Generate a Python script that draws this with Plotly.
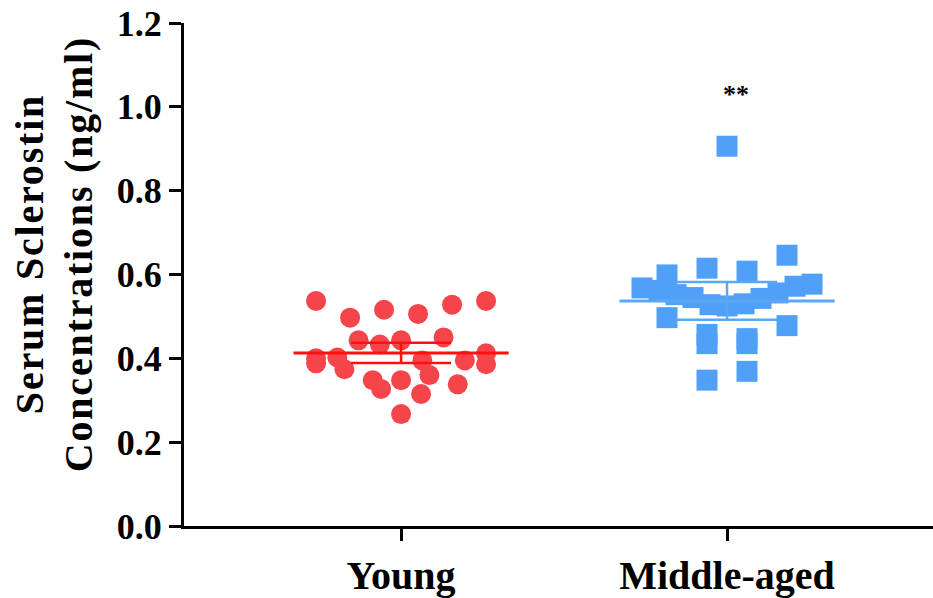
import plotly.graph_objects as go

# Serum sclerostin concentrations (ng/ml) per subject
categories = ["Young", "Middle-aged"]
young_values = [
    0.537, 0.497, 0.516, 0.506, 0.528, 0.537,
    0.400, 0.402, 0.443, 0.433, 0.443, 0.395, 0.450, 0.395, 0.412,
    0.388, 0.374, 0.348, 0.348, 0.360, 0.338, 0.386,
    0.327, 0.315, 0.267,
]
middle_values = [
    0.906,
    0.599, 0.615, 0.608, 0.646,
    0.568, 0.562, 0.552, 0.545, 0.528, 0.525, 0.530, 0.543, 0.556, 0.572, 0.577,
    0.497, 0.457, 0.447, 0.478,
    0.435, 0.435,
    0.348, 0.369,
]
group_means = [0.413, 0.537]
group_errors = [0.024, 0.045]
y_ticks = [0.0, 0.2, 0.4, 0.6, 0.8, 1.0, 1.2]
significance = "**"

# figure geometry
W, H = 933, 598
M_L, M_R, M_T, M_B = 184, 0, 23, 68
X_RANGE = [-0.666, 1.632]
Y_RANGE = [0, 1.2]
plot_w = W - M_L - M_R
plot_h = H - M_T - M_B
px_per_x = plot_w / (X_RANGE[1] - X_RANGE[0])


def row_offsets(values, band=0.055, step_px=40, max_width_px=170):
    """Scatter-dot layout: values falling in the same band share a row and are
    spread symmetrically about the category centre, in list order."""
    order = sorted(range(len(values)), key=lambda i: -values[i])
    rows, top = [], None
    for i in order:
        if top is None or values[i] < top - band:
            rows.append([])
            top = values[i]
        rows[-1].append(i)
    offsets = [0.0] * len(values)
    for row in rows:
        row.sort()
        n = len(row)
        if n == 1:
            continue
        width = min(step_px * (n - 1), max_width_px)
        for k, i in enumerate(row):
            offsets[i] = (-width / 2 + k * width / (n - 1)) / px_per_x
    return offsets


SERIF = "Liberation Serif"
RED = "#F5454B"
RED_LINE = "#FF1010"
BLUE = "#50A0F8"
BLUE_LINE = "#5AA8F5"

fig = go.Figure()

groups = [
    (young_values, RED, "circle", 20),
    (middle_values, BLUE, "square", 21),
]
for gi, (vals, col, sym, size) in enumerate(groups):
    offs = row_offsets(vals)
    fig.add_trace(go.Scatter(
        x=[gi + o for o in offs], y=vals, mode="markers",
        marker=dict(symbol=sym, size=size, color=col, line=dict(width=0)),
        showlegend=False, hoverinfo="y",
    ))

for gi, lcol in enumerate([RED_LINE, BLUE_LINE]):
    m = group_means[gi]
    e = group_errors[gi]
    # mean line
    fig.add_trace(go.Scatter(
        x=[gi - 0.33, gi + 0.33], y=[m, m], mode="lines",
        line=dict(color=lcol, width=3), showlegend=False, hoverinfo="skip",
    ))
    # error bar
    fig.add_trace(go.Scatter(
        x=[gi], y=[m], mode="markers", marker=dict(size=1, opacity=0),
        error_y=dict(type="data", array=[e], color=lcol, thickness=2.5, width=50),
        showlegend=False, hoverinfo="skip",
    ))

fig.add_annotation(
    x=1, y=1.03, xref="x", yref="y", text=significance, showarrow=False,
    xshift=9, font=dict(family=SERIF, size=26, color="black", weight="bold"),
)

# two-line rotated y-axis title
title_lines = ["Serum Sclerostin", "Concentrations (ng/ml)"]
title_x_px = [29, 78]
title_y_px = 256
for line, xp in zip(title_lines, title_x_px):
    fig.add_annotation(
        x=(xp - M_L) / plot_w, y=(H - M_B - title_y_px) / plot_h,
        xref="paper", yref="paper", xanchor="center", yanchor="middle",
        text=f'<span style="letter-spacing:1.8px">{line}</span>',
        textangle=-90, showarrow=False,
        font=dict(family=SERIF, size=40, color="black", weight="bold"),
    )

fig.update_layout(
    width=W, height=H,
    margin=dict(l=M_L, r=M_R, t=M_T, b=M_B, pad=0),
    paper_bgcolor="white", plot_bgcolor="white",
    font=dict(family=SERIF, color="black"),
    xaxis=dict(
        range=X_RANGE, tickmode="array", tickvals=[0, 1], ticktext=categories,
        showline=True, linecolor="black", linewidth=3, mirror=False,
        ticks="outside", ticklen=12, tickwidth=3, tickcolor="black",
        tickfont=dict(family=SERIF, size=40, color="black", weight="bold"),
        showgrid=False, zeroline=False, fixedrange=True,
    ),
    yaxis=dict(
        range=Y_RANGE, tickmode="array", tickvals=y_ticks,
        ticktext=[f"{v:.1f}" for v in y_ticks],
        showline=True, linecolor="black", linewidth=3,
        ticks="outside", ticklen=12, tickwidth=3, tickcolor="black",
        tickfont=dict(family=SERIF, size=36, color="black", weight="bold"),
        showgrid=False, zeroline=False, fixedrange=True,
    ),
)

fig.write_html("out.html")
